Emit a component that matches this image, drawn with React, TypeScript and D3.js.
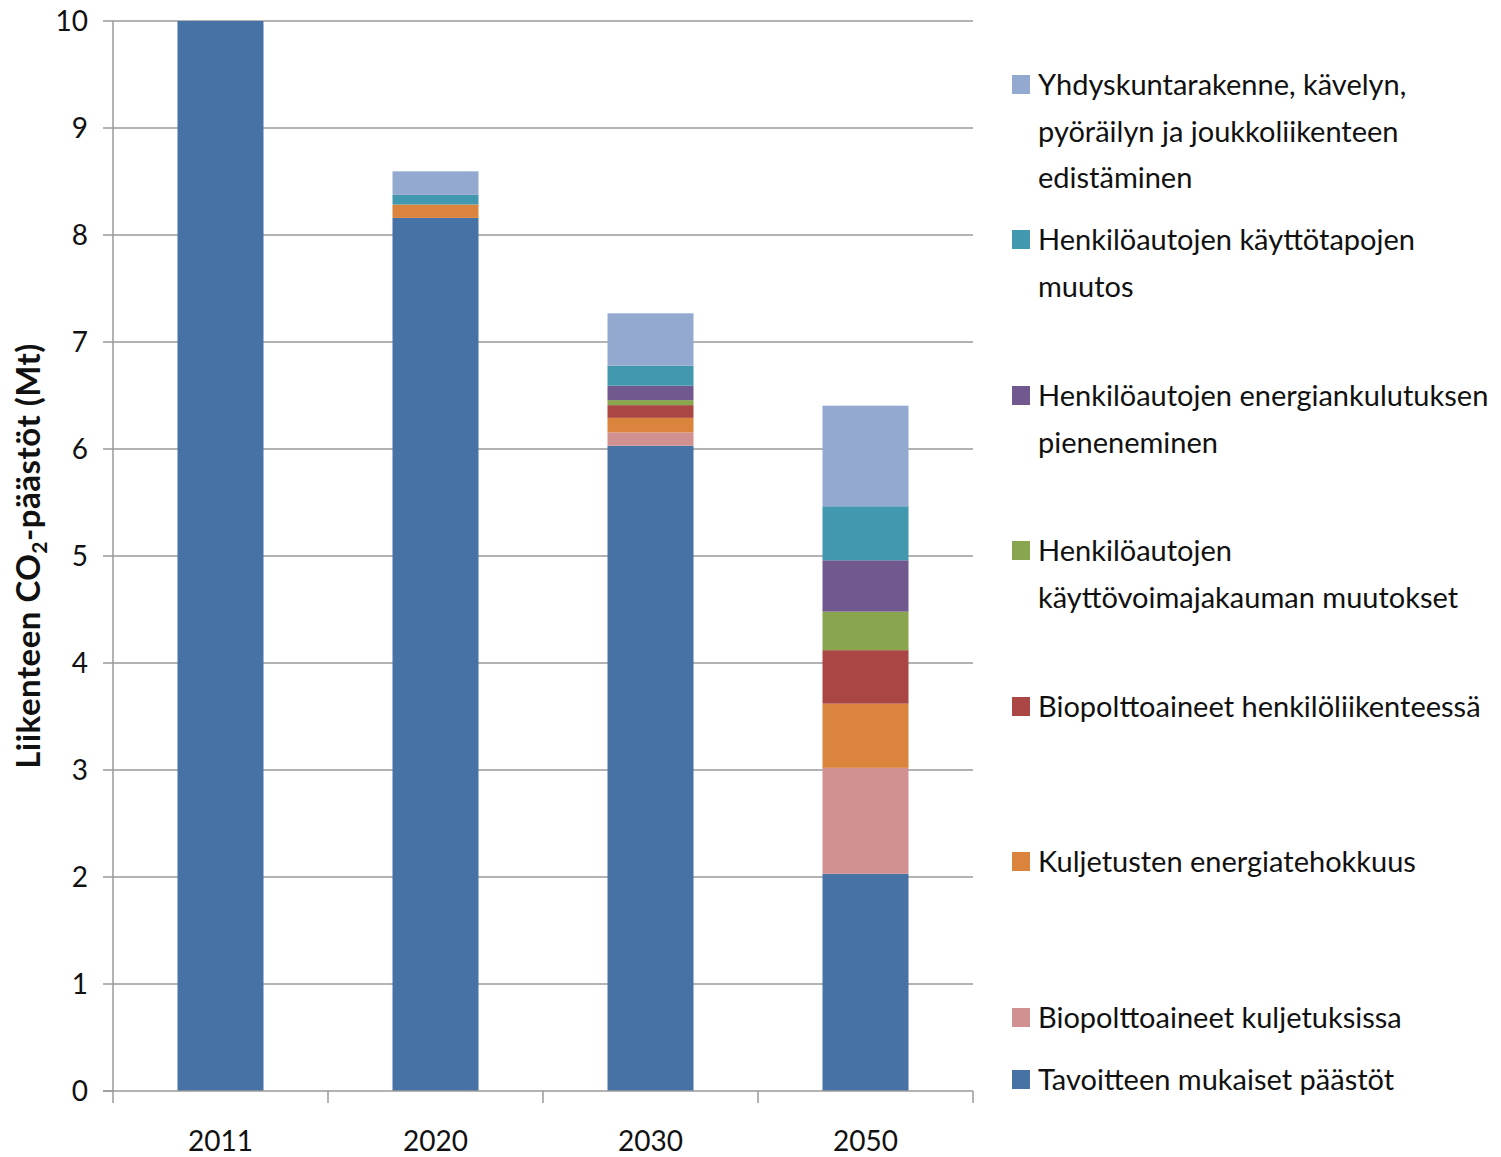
import * as d3 from "d3";

const years = ["2011", "2020", "2030", "2050"];

// stacked bottom to top
const seriesNames = [
  "Tavoitteen mukaiset päästöt",
  "Biopolttoaineet kuljetuksissa",
  "Kuljetusten energiatehokkuus",
  "Biopolttoaineet henkilöliikenteessä",
  "Henkilöautojen käyttövoimajakauman muutokset",
  "Henkilöautojen energiankulutuksen pieneneminen",
  "Henkilöautojen käyttötapojen muutos",
  "Yhdyskuntarakenne, kävelyn, pyöräilyn ja joukkoliikenteen edistäminen",
];
const seriesColors = ["#4672A6", "#D29191", "#DB843D", "#AA4643", "#89A54E", "#71588F", "#4198AF", "#93A9CF"];

const tavoite = [10, 8.16, 6.03, 2.03];
const bioKuljetus = [0, 0, 0.125, 0.99];
const energiatehokkuus = [0, 0.125, 0.136, 0.6];
const bioHenkilo = [0, 0, 0.119, 0.5];
const kayttovoima = [0, 0, 0.047, 0.36];
const energiankulutus = [0, 0, 0.134, 0.48];
const kayttotavat = [0, 0.09, 0.187, 0.505];
const yhdyskunta = [0, 0.22, 0.49, 0.94];
const seriesValues = [tavoite, bioKuljetus, energiatehokkuus, bioHenkilo, kayttovoima, energiankulutus, kayttotavat, yhdyskunta];

const yTicks = [0, 1, 2, 3, 4, 5, 6, 7, 8, 9, 10];

// legend text, top entry first, wrapped as in the picture
const legendLines = [
  ["Yhdyskuntarakenne, kävelyn,", "pyöräilyn ja joukkoliikenteen", "edistäminen"],
  ["Henkilöautojen käyttötapojen", "muutos"],
  ["Henkilöautojen energiankulutuksen", "pieneneminen"],
  ["Henkilöautojen", "käyttövoimajakauman muutokset"],
  ["Biopolttoaineet henkilöliikenteessä"],
  ["Kuljetusten energiatehokkuus"],
  ["Biopolttoaineet kuljetuksissa"],
  ["Tavoitteen mukaiset päästöt"],
];
const legendY = [85, 240, 396, 551, 707, 862, 1018, 1080];

const W = 1501;
const H = 1157;
const margin = { top: 21, left: 113, right: 528, bottom: 66 };
const font = "Lato, 'Open Sans', sans-serif";

export default function App() {
  const x = d3.scaleBand().domain(years).range([margin.left, W - margin.right]).paddingInner(0.6).paddingOuter(0.3);
  const band = d3.scaleBand().domain(years).range([margin.left, W - margin.right]);
  const y = d3.scaleLinear().domain([0, 10]).range([H - margin.bottom, margin.top]);

  const table = years.map((yr, i) => {
    const row: any = { year: yr };
    seriesNames.forEach((s, j) => (row[s] = seriesValues[j][i]));
    return row;
  });
  const stacked = d3.stack().keys(seriesNames)(table);

  const y0 = y(0);
  const bottomTicks = [...years.map((d) => band(d)!), band(years[years.length - 1])! + band.bandwidth()];
  const legendOrder = seriesNames.map((_, i) => seriesNames.length - 1 - i);

  return (
    <svg width={W} height={H} style={{ position: "absolute", left: 0, top: 0, background: "#fff" }} fontFamily={font}>
      {yTicks.map((t) => (
        <g key={t}>
          {t > 0 && <line x1={margin.left} x2={W - margin.right} y1={y(t)} y2={y(t)} stroke="#9a9a9a" strokeWidth={1.5} />}
          <line x1={margin.left - 10} x2={margin.left} y1={y(t)} y2={y(t)} stroke="#9a9a9a" strokeWidth={1.5} />
          <text x={88} y={y(t)} dy="0.35em" textAnchor="end" fontSize={28} fill="#111">{t}</text>
        </g>
      ))}
      {stacked.map((layer, j) => (
        <g key={layer.key} fill={seriesColors[j]}>
          {layer.map((d, i) =>
            d[1] - d[0] > 0 ? (
              <rect key={i} x={x(years[i])} width={x.bandwidth()} y={y(d[1])} height={y(d[0]) - y(d[1])} />
            ) : null
          )}
        </g>
      ))}
      <line x1={margin.left} x2={margin.left} y1={margin.top} y2={y0} stroke="#9a9a9a" strokeWidth={1.5} />
      <line x1={margin.left - 10} x2={W - margin.right} y1={y0} y2={y0} stroke="#9a9a9a" strokeWidth={1.5} />
      {bottomTicks.map((bx, i) => (
        <line key={i} x1={bx} x2={bx} y1={y0} y2={y0 + 12} stroke="#9a9a9a" strokeWidth={1.5} />
      ))}
      {years.map((yr) => (
        <text key={yr} x={x(yr)! + x.bandwidth() / 2} y={1141} dy="0.35em" textAnchor="middle" fontSize={28} fill="#111">{yr}</text>
      ))}
      <text transform={`translate(40,556) rotate(-90)`} textAnchor="middle" fontSize={33} fontWeight="bold" fill="#111" letterSpacing={0.5}>
        Liikenteen CO<tspan fontSize={21} dy={7}>2</tspan><tspan dy={-7}>-päästöt (Mt)</tspan>
      </text>
      {legendOrder.map((si, k) => (
        <g key={si}>
          <rect x={1012} y={legendY[k] - 10} width={18} height={19} fill={seriesColors[si]} />
          {legendLines[k].map((ln, li) => (
            <text key={li} x={1038} y={legendY[k] + li * 46.5} dy="0.35em" fontSize={29} fill="#111">{ln}</text>
          ))}
        </g>
      ))}
    </svg>
  );
}
